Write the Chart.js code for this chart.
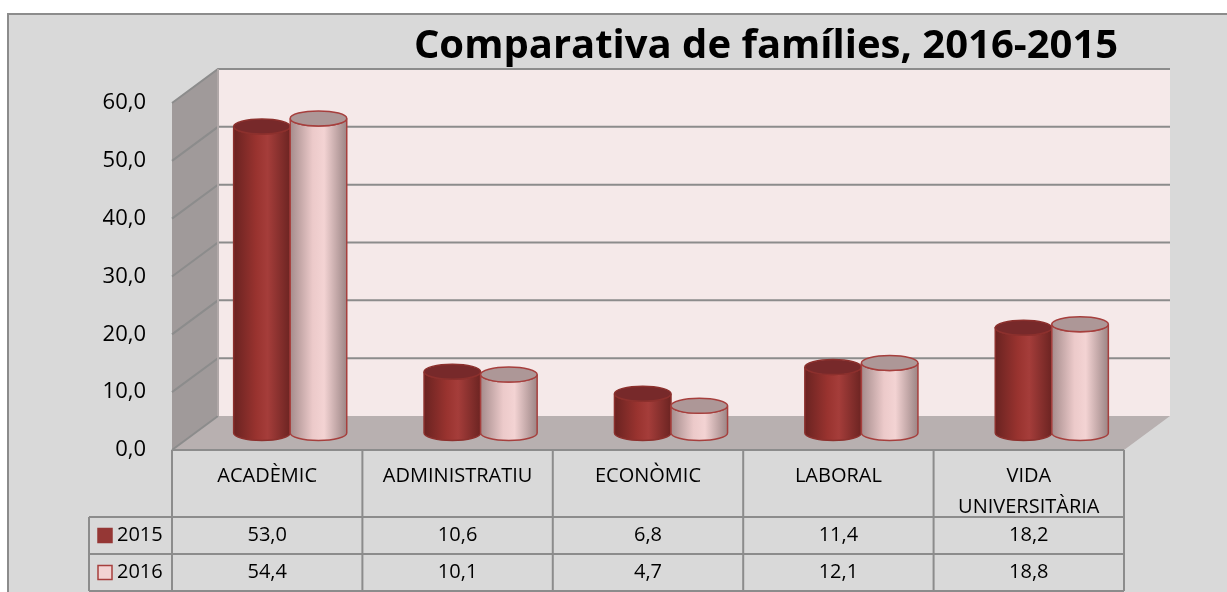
<!DOCTYPE html>
<html>
<head>
<meta charset="utf-8">
<script src="https://cdn.jsdelivr.net/npm/chart.js@4.4.1/dist/chart.umd.min.js"></script>
<style>
  html, body { margin: 0; padding: 0; background: #fff; }
  canvas { display: block; }
</style>
</head>
<body>
<canvas id="grafic" width="1227" height="592"></canvas>
<script>
// dades llegides del gràfic
const categories = ['ACADÈMIC', 'ADMINISTRATIU', 'ECONÒMIC', 'LABORAL', 'VIDA UNIVERSITÀRIA'];
const valors2015 = [53.0, 10.6, 6.8, 11.4, 18.2];
const valors2016 = [54.4, 10.1, 4.7, 12.1, 18.8];
const series = ['2015', '2016'];
const yTicks = [0, 10, 20, 30, 40, 50, 60];
const titol = 'Comparativa de famílies, 2016-2015';

// desplaçament de la perspectiva (meitat de la profunditat)
const DX = 23, DY = 17;
const FONT = '"Open Sans", Lato, sans-serif';

function fmt(v) { return v.toFixed(1).replace('.', ','); }

// colors dels cilindres
const estils = [
  { stops: ['#6a2321', '#99332f', '#a53d3a', '#6c2422'], tapa: '#77292a', vora: '#8c302d' },
  { stops: ['#a58c8c', '#eccaca', '#f3d3d3', '#9c8585'], tapa: '#ad9797', vora: '#a63f3d' }
];

function cilindre(ctx, x, top, base, w, e) {
  const rx = w / 2, ry = 7.5;
  const g = ctx.createLinearGradient(x - rx, 0, x + rx, 0);
  g.addColorStop(0, e.stops[0]);
  g.addColorStop(0.4, e.stops[1]);
  g.addColorStop(0.6, e.stops[2]);
  g.addColorStop(1, e.stops[3]);
  ctx.beginPath();
  ctx.moveTo(x - rx, top);
  ctx.lineTo(x - rx, base);
  ctx.ellipse(x, base, rx, ry, 0, Math.PI, 0, true);
  ctx.lineTo(x + rx, top);
  ctx.ellipse(x, top, rx, ry, 0, 0, Math.PI, false);
  ctx.closePath();
  ctx.fillStyle = g;
  ctx.fill();
  ctx.lineWidth = 1.5;
  ctx.strokeStyle = e.vora;
  ctx.stroke();
  ctx.beginPath();
  ctx.ellipse(x, top, rx, ry, 0, 0, Math.PI * 2);
  ctx.fillStyle = e.tapa;
  ctx.fill();
  ctx.stroke();
}

const escena = {
  id: 'escena',
  beforeDraw(chart) {
    const ctx = chart.ctx;
    const a = chart.chartArea;
    const ys = chart.scales.y, xs = chart.scales.x;
    ctx.save();
    // fons i marc
    ctx.fillStyle = '#fff';
    ctx.fillRect(0, 0, chart.width, chart.height);
    ctx.fillStyle = '#d9d9d9';
    ctx.fillRect(8, 14, chart.width - 8, chart.height - 14);
    ctx.strokeStyle = '#8c8c8c';
    ctx.lineWidth = 2;
    ctx.beginPath();
    ctx.moveTo(8, chart.height);
    ctx.lineTo(8, 14);
    ctx.lineTo(chart.width, 14);
    ctx.stroke();

    const bl = a.left + DX, br = a.right + DX;       // paret del fons
    const fl = a.left - DX, fr = a.right - DX;       // pla frontal
    const yTop = ys.getPixelForValue(60), yBase = ys.getPixelForValue(0);

    // paret del fons
    ctx.fillStyle = '#f5e9e9';
    ctx.fillRect(bl, yTop - DY, br - bl, yBase - yTop);
    // paret lateral
    ctx.fillStyle = '#a09a9a';
    ctx.beginPath();
    ctx.moveTo(fl, yTop + DY);
    ctx.lineTo(bl, yTop - DY);
    ctx.lineTo(bl, yBase - DY);
    ctx.lineTo(fl, yBase + DY);
    ctx.closePath();
    ctx.fill();
    // terra
    ctx.fillStyle = '#b8b0b0';
    ctx.beginPath();
    ctx.moveTo(fl, yBase + DY);
    ctx.lineTo(bl, yBase - DY);
    ctx.lineTo(br, yBase - DY);
    ctx.lineTo(fr, yBase + DY);
    ctx.closePath();
    ctx.fill();

    // línies de la graella
    ctx.strokeStyle = '#8c8c8c';
    ctx.lineWidth = 2;
    yTicks.forEach(v => {
      const y = ys.getPixelForValue(v);
      ctx.beginPath();
      ctx.moveTo(fl, y + DY);
      ctx.lineTo(bl, y - DY);
      if (v > 0) ctx.lineTo(br, y - DY);
      ctx.stroke();
    });
    ctx.beginPath();
    ctx.moveTo(bl, yTop - DY);
    ctx.lineTo(bl, yBase - DY);
    ctx.strokeStyle = '#b0a8a8';
    ctx.stroke();

    // etiquetes de l'eix Y
    ctx.fillStyle = '#000';
    ctx.font = '22px ' + FONT;
    ctx.textAlign = 'right';
    ctx.textBaseline = 'middle';
    yTicks.forEach(v => {
      ctx.fillText(fmt(v), fl - 26, ys.getPixelForValue(v) + DY);
    });

    // títol
    ctx.font = 'bold 40px ' + FONT;
    ctx.textAlign = 'center';
    ctx.fillText(titol, 766, 47);

    // taula de dades
    const yT0 = yBase + DY, yT1 = 517, yT2 = 554, yT3 = 591;
    const step = (fr - fl) / categories.length;
    ctx.strokeStyle = '#8c8c8c';
    ctx.lineWidth = 2;
    ctx.beginPath();
    ctx.moveTo(fl, yT0); ctx.lineTo(fr, yT0);
    [yT1, yT2, yT3].forEach(y => { ctx.moveTo(89, y); ctx.lineTo(fr, y); });
    for (let i = 0; i <= categories.length; i++) {
      const x = fl + step * i;
      ctx.moveTo(x, yT0); ctx.lineTo(x, yT3);
    }
    ctx.moveTo(89, yT1); ctx.lineTo(89, yT3);
    ctx.stroke();

    ctx.fillStyle = '#000';
    ctx.font = '20px ' + FONT;
    categories.forEach((c, i) => {
      const x = xs.getPixelForValue(i) - DX;
      const parts = c === 'VIDA UNIVERSITÀRIA' ? ['VIDA', 'UNIVERSITÀRIA'] : [c];
      parts.forEach((p, k) => ctx.fillText(p, x, 476 + k * 31));
      ctx.fillText(fmt(valors2015[i]), x, (yT1 + yT2) / 2);
      ctx.fillText(fmt(valors2016[i]), x, (yT2 + yT3) / 2);
    });
    // llegenda dins la taula
    [yT1, yT2].forEach((y0, k) => {
      const yc = y0 + 18.5;
      ctx.fillStyle = k === 0 ? '#953735' : '#f2d3d3';
      ctx.fillRect(98, yc - 7, 14, 14);
      ctx.strokeStyle = k === 0 ? '#953735' : '#a63f3d';
      ctx.lineWidth = 1.5;
      ctx.strokeRect(98, yc - 7, 14, 14);
      ctx.fillStyle = '#000';
      ctx.textAlign = 'left';
      ctx.fillText(series[k], 117, yc);
    });
    ctx.restore();
  },
  afterDatasetsDraw(chart) {
    const ctx = chart.ctx;
    ctx.save();
    categories.forEach((c, i) => {
      chart.data.datasets.forEach((ds, d) => {
        const bar = chart.getDatasetMeta(d).data[i];
        cilindre(ctx, bar.x, bar.y, bar.base, bar.width, estils[d]);
      });
    });
    ctx.restore();
  }
};

new Chart(document.getElementById('grafic').getContext('2d'), {
  type: 'bar',
  data: {
    labels: categories,
    datasets: [
      { label: series[0], data: valors2015, backgroundColor: 'rgba(0,0,0,0)', borderWidth: 0 },
      { label: series[1], data: valors2016, backgroundColor: 'rgba(0,0,0,0)', borderWidth: 0 }
    ]
  },
  options: {
    responsive: false,
    animation: false,
    layout: { padding: { left: 195, right: 80, top: 86, bottom: 159 } },
    datasets: { bar: { categoryPercentage: 0.594, barPercentage: 1 } },
    scales: {
      x: { display: false },
      y: { display: false, min: 0, max: 60, ticks: { stepSize: 10 } }
    },
    plugins: {
      legend: { display: false },
      tooltip: { enabled: false }
    }
  },
  plugins: [escena]
});
</script>
</body>
</html>
